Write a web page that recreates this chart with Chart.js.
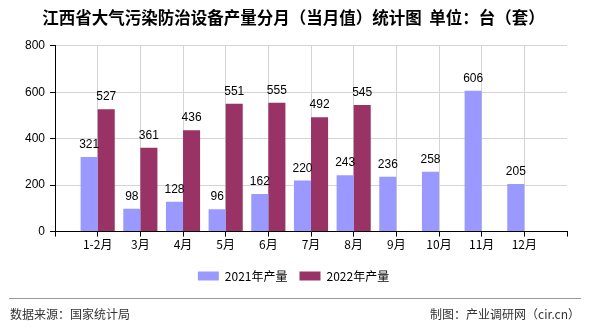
<!DOCTYPE html>
<html>
<head>
<meta charset="utf-8">
<script src="https://cdn.jsdelivr.net/npm/chart.js@4.4.1/dist/chart.umd.min.js"></script>
<style>
  html, body { margin: 0; padding: 0; background: #fff; }
  #wrap { width: 590px; height: 330px; position: relative; }
</style>
</head>
<body>
<div id="wrap"><canvas id="barChart" width="590" height="330"></canvas></div>
<script>
// blank slots at both ends keep the axis padding one category wide
const months = ['', '1-2月', '3月', '4月', '5月', '6月', '7月', '8月', '9月', '10月', '11月', '12月', ''];
const output2021 = [null, 321, 98, 128, 96, 162, 220, 243, 236, 258, 606, 205, null];
const output2022 = [null, 527, 361, 436, 551, 555, 492, 545, null, null, null, null, null];
const yTicks = [0, 200, 400, 600, 800];

const cjkFont = '"Noto Sans CJK SC", "DejaVu Sans", sans-serif';
const numFont = '"Liberation Sans", "DejaVu Sans", sans-serif';

// value labels above each bar
const valueLabels = {
    id: 'valueLabels',
    afterDatasetsDraw(chart) {
        const ctx = chart.ctx;
        ctx.save();
        ctx.font = '12px ' + numFont;
        ctx.fillStyle = '#000';
        ctx.textAlign = 'center';
        ctx.textBaseline = 'alphabetic';
        chart.data.datasets.forEach(function(ds, i) {
            chart.getDatasetMeta(i).data.forEach(function(bar, j) {
                const v = ds.data[j];
                if (v === null || v === undefined) return;
                ctx.fillText(String(v), bar.x, bar.y - 9);
            });
        });
        ctx.restore();
    }
};

// source line under the legend
const footer = {
    id: 'footer',
    afterDraw(chart) {
        const ctx = chart.ctx;
        ctx.save();
        ctx.strokeStyle = '#999';
        ctx.lineWidth = 1;
        ctx.beginPath();
        ctx.moveTo(9, 298.5);
        ctx.lineTo(581, 298.5);
        ctx.stroke();
        ctx.font = '12px ' + cjkFont;
        ctx.fillStyle = '#333';
        ctx.textBaseline = 'middle';
        ctx.textAlign = 'left';
        ctx.fillText('数据来源：国家统计局', 10, 314);
        ctx.textAlign = 'right';
        ctx.fillText('制图：产业调研网（cir.cn）', 580, 314);
        ctx.restore();
    }
};

const lastIdx = months.length - 1;

new Chart(document.getElementById('barChart').getContext('2d'), {
    type: 'bar',
    data: {
        labels: months,
        datasets: [{
            label: '2021年产量',
            data: output2021,
            backgroundColor: '#9999ff',
            barPercentage: 1,
            categoryPercentage: 0.8
        }, {
            label: '2022年产量',
            data: output2022,
            backgroundColor: '#993366',
            barPercentage: 1,
            categoryPercentage: 0.8
        }]
    },
    options: {
        responsive: false,
        animation: false,
        layout: { padding: { left: 20, right: 23, top: 0, bottom: 38 } },
        plugins: {
            title: {
                display: true,
                text: '江西省大气污染防治设备产量分月（当月值）统计图  单位：台（套）',
                font: { family: cjkFont, size: 16.5, weight: 'bold' },
                color: '#000',
                padding: { top: 8, bottom: 18 }
            },
            legend: {
                position: 'bottom',
                labels: {
                    boxWidth: 21,
                    boxHeight: 9,
                    padding: 12,
                    color: '#000',
                    font: { family: cjkFont, size: 12 }
                }
            },
            tooltip: { enabled: false }
        },
        scales: {
            x: {
                offset: false,
                afterFit: function(scale) { scale.height += 5; },
                grid: {
                    offset: false,
                    color: function(c) { return c.index === lastIdx ? 'rgba(0,0,0,0)' : '#d4d4d4'; },
                    tickColor: '#000',
                    tickLength: 5
                },
                border: { color: '#000', width: 1 },
                ticks: {
                    color: '#000',
                    font: { family: cjkFont, size: 12 },
                    maxRotation: 0,
                    autoSkip: false,
                    padding: 1
                }
            },
            y: {
                min: 0,
                max: 800,
                afterBuildTicks: function(scale) {
                    scale.ticks = yTicks.map(function(v) { return { value: v }; });
                },
                grid: { color: '#d4d4d4', tickColor: '#000', tickLength: 5 },
                border: { color: '#000', width: 1 },
                ticks: {
                    color: '#000',
                    font: { family: numFont, size: 12 },
                    padding: 5
                }
            }
        }
    },
    plugins: [valueLabels, footer]
});
</script>
</body>
</html>
